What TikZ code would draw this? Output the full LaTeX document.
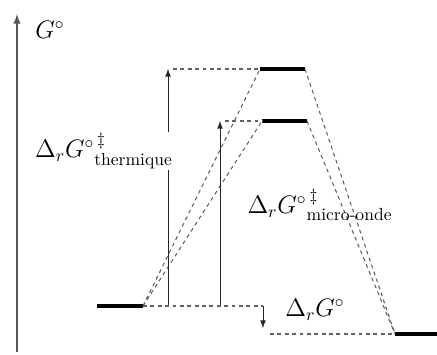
\documentclass[tikz,border=0pt]{standalone}
\usepackage{amsmath,amssymb}
\usetikzlibrary{arrows,positioning,calc}

\begin{document}
\begin{tikzpicture}[x=0.02cm,y=0.02cm,
    level/.style={line width=2.4pt},
    guide/.style={gray!75!black, line width=0.6pt, dash pattern=on 2.2pt off 2pt},
    barrier/.style={-latex, line width=0.5pt, black!85}]
    \useasboundingbox (0,0) rectangle (437,355);

    % Energy levels
    \coordinate (Rl) at (97,49);   \coordinate (Rr) at (143,49);
    \coordinate (Tl) at (260,286); \coordinate (Tr) at (305,286);
    \coordinate (Ml) at (262,234); \coordinate (Mr) at (307,234);
    \coordinate (Pl) at (395,21);  \coordinate (Pr) at (437,21);
    \draw[level] (Rl) -- (Rr);
    \draw[level] (Tl) -- (Tr);
    \draw[level] (Ml) -- (Mr);
    \draw[level] (Pl) -- (Pr);

    % Axis
    \coordinate (axis0) at (17,3);
    \coordinate (axis1) at (17,341);
    \draw[-latex, line width=0.9pt, gray!70!black] (axis0) -- (axis1);
    \node (Glab) at (50,325) {\Large $G^{\circ}$};

    % Reaction paths
    \draw[guide] (Rr) -- (Tl);
    \draw[guide] (Rr) -- (Ml);
    \draw[guide] (Tr) -- (Pl);
    \draw[guide] (Mr) -- (Pl);

    % Activation barriers
    \coordinate (thB) at (168,49); \coordinate (thT) at (168,286);
    \coordinate (mwB) at (220,49); \coordinate (mwT) at (220,234);
    \draw[barrier] (thB) -- (thT);
    \draw[barrier] (mwB) -- (mwT);
    \draw[guide] ($(thT)+(5,0)$) -- (Tl);
    \draw[guide] ($(mwT)+(5,0)$) -- (Ml);

    % Reaction free energy
    \coordinate (rgT) at (263,49);
    \coordinate (rgB) at (263,27);
    \draw[guide] (Rr) -- (rgT);
    \draw[barrier] (rgT) -- (rgB);
    \draw[guide] ($(rgB)+(7,-6)$) -- (Pl);

    % Labels
    \node[fill=white, inner sep=1pt] (thLab) at (104,204) {\Large $\Delta_r G^{\circ}{}^{\,\ddagger}_{\text{\normalsize thermique}}$};
    \node (mwLab) at (320,150) {\Large $\Delta_r G^{\circ}{}^{\,\ddagger}_{\text{\normalsize micro-onde}}$};
    \node (rgLab) at (315,45) {\Large $\Delta_r G^{\circ}$};
\end{tikzpicture}
\end{document}
